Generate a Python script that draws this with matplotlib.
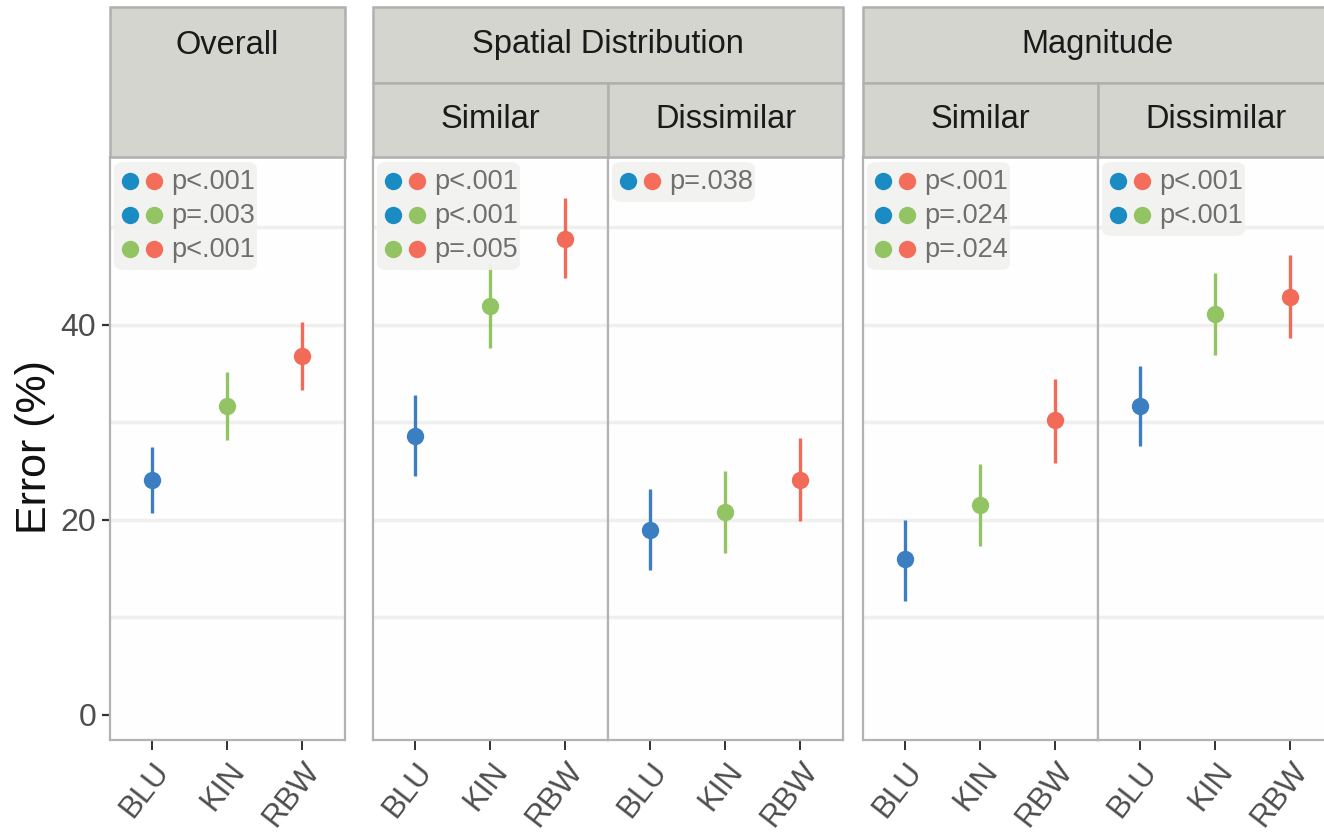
import numpy as np
import matplotlib
matplotlib.use("Agg")
import matplotlib.pyplot as plt
from matplotlib.patches import Rectangle, FancyBboxPatch
from matplotlib.lines import Line2D

plt.rcParams['font.family'] = ['Liberation Sans', 'DejaVu Sans']

W, H = 1324, 839

# colour schemes on the x axis
categories = ['BLU', 'KIN', 'RBW']

# mean error (%) with lower / upper interval bounds for each panel
overall_mean = [24.1, 31.7, 36.8]
overall_lo = [20.7, 28.2, 33.3]
overall_hi = [27.5, 35.1, 40.3]

spatial_sim_mean = [28.6, 41.9, 48.8]
spatial_sim_lo = [24.5, 37.6, 44.8]
spatial_sim_hi = [32.8, 46.2, 53.0]

spatial_dis_mean = [18.9, 20.8, 24.1]
spatial_dis_lo = [14.8, 16.6, 19.9]
spatial_dis_hi = [23.1, 25.0, 28.4]

mag_sim_mean = [16.0, 21.5, 30.2]
mag_sim_lo = [11.7, 17.3, 25.8]
mag_sim_hi = [20.0, 25.7, 34.4]

mag_dis_mean = [31.7, 41.1, 42.8]
mag_dis_lo = [27.6, 36.9, 38.6]
mag_dis_hi = [35.8, 45.3, 47.1]

# pairwise comparisons shown in each panel
overall_tests = [('BLU', 'RBW', 'p<.001'), ('BLU', 'KIN', 'p=.003'), ('KIN', 'RBW', 'p<.001')]
spatial_sim_tests = [('BLU', 'RBW', 'p<.001'), ('BLU', 'KIN', 'p<.001'), ('KIN', 'RBW', 'p=.005')]
spatial_dis_tests = [('BLU', 'RBW', 'p=.038')]
mag_sim_tests = [('BLU', 'RBW', 'p<.001'), ('BLU', 'KIN', 'p=.024'), ('KIN', 'RBW', 'p=.024')]
mag_dis_tests = [('BLU', 'RBW', 'p<.001'), ('BLU', 'KIN', 'p<.001')]

point_colors = {'BLU': '#3b7fc2', 'KIN': '#93c463', 'RBW': '#f26a58'}
dot_colors = {'BLU': '#1b8cc3', 'KIN': '#93c463', 'RBW': '#f46c5a'}

STRIP_FILL = '#d5d5d0'
STRIP_EDGE = '#b0b0b0'
GRID = '#efefed'

PLOT_TOP, PLOT_BOT = 157, 740
STRIP_TOP, STRIP_MID = 7, 83


def fx(px):
    return px / W


def fy(py):
    return 1 - py / H


def strip(fig, x0, x1, y0, y1, label):
    fig.add_artist(Rectangle((fx(x0), fy(y1)), fx(x1) - fx(x0), fy(y0) - fy(y1),
                             transform=fig.transFigure, facecolor=STRIP_FILL,
                             edgecolor=STRIP_EDGE, linewidth=1.8, zorder=1))
    fig.text(fx((x0 + x1) / 2), fy((y0 + y1) / 2), label, ha='center', va='center',
             fontsize=23.5, color='#1a1a1a', zorder=2)


def key_box(fig, x0, tests):
    n = len(tests)
    top = 162
    fig.add_artist(FancyBboxPatch((fx(x0 + 4), fy(top + 6 + 34 * n)), fx(143), fy(0) - fy(6 + 34 * n),
                                  boxstyle='round,pad=0,rounding_size=0.008',
                                  transform=fig.transFigure, facecolor='#f2f2f0',
                                  edgecolor='none', alpha=0.92, zorder=5))
    for i, (a, b, label) in enumerate(tests):
        yc = 181 + 34 * i
        for dx, cat in ((20, a), (44, b)):
            fig.add_artist(Line2D([fx(x0 + dx)], [fy(yc)], marker='o', markersize=12.5,
                                  markerfacecolor=dot_colors[cat], markeredgecolor='none',
                                  transform=fig.transFigure, zorder=6))
        fig.text(fx(x0 + 61), fy(yc + 1), label, ha='left', va='center', fontsize=19.5,
                 color='#6f6f6f', zorder=6)


def panel(fig, x0, x1, mean, lo, hi, show_y):
    ax = fig.add_axes([fx(x0), fy(PLOT_BOT), fx(x1) - fx(x0), fy(PLOT_TOP) - fy(PLOT_BOT)])
    ax.set_facecolor('#fefefe')
    x = np.arange(1, len(categories) + 1)
    for xi, cat, m, l, h in zip(x, categories, mean, lo, hi):
        ax.plot([xi, xi], [l, h], color=point_colors[cat], lw=2.4, solid_capstyle='butt', zorder=3)
        ax.plot(xi, m, 'o', color=point_colors[cat], markersize=12.5, markeredgewidth=0, zorder=4)
    ax.set_xlim(0.44, 3.57)
    ax.set_ylim(-2.6, 57.2)
    for g in (10, 20, 30, 40, 50):
        ax.axhline(g, color=GRID, lw=2.5, zorder=1)
    ax.set_xticks(x)
    ax.set_xticklabels(categories, rotation=52, ha='right', va='top',
                       rotation_mode='anchor', fontsize=22.5, color='#4d4d4d')
    ax.tick_params(axis='x', length=7, width=1.4, color='#333333', pad=5)
    if show_y:
        ax.set_yticks([0, 20, 40])
        ax.set_yticklabels(['0', '20', '40'], fontsize=23, color='#4d4d4d')
        ax.tick_params(axis='y', length=6, width=1.6, color='#333333', pad=4)
    else:
        ax.set_yticks([])
    for s in ax.spines.values():
        s.set_color('#b3b3b3')
        s.set_linewidth(1.6)
    return ax


fig = plt.figure(figsize=(W / 100, H / 100), dpi=100)
fig.patch.set_facecolor('white')

# Overall
panel(fig, 110, 345, overall_mean, overall_lo, overall_hi, True)
strip(fig, 110, 345, STRIP_TOP, PLOT_TOP, '')
fig.text(fx(227), fy(46), 'Overall', ha='center', va='center', fontsize=23.5, color='#1a1a1a')
key_box(fig, 110, overall_tests)

# Spatial Distribution
panel(fig, 373, 608, spatial_sim_mean, spatial_sim_lo, spatial_sim_hi, False)
panel(fig, 608, 843, spatial_dis_mean, spatial_dis_lo, spatial_dis_hi, False)
strip(fig, 373, 843, STRIP_TOP, STRIP_MID, 'Spatial Distribution')
strip(fig, 373, 608, STRIP_MID, PLOT_TOP, 'Similar')
strip(fig, 608, 843, STRIP_MID, PLOT_TOP, 'Dissimilar')
key_box(fig, 373, spatial_sim_tests)
key_box(fig, 608, spatial_dis_tests)

# Magnitude
panel(fig, 863, 1098, mag_sim_mean, mag_sim_lo, mag_sim_hi, False)
panel(fig, 1098, 1333, mag_dis_mean, mag_dis_lo, mag_dis_hi, False)
strip(fig, 863, 1333, STRIP_TOP, STRIP_MID, 'Magnitude')
strip(fig, 863, 1098, STRIP_MID, PLOT_TOP, 'Similar')
strip(fig, 1098, 1333, STRIP_MID, PLOT_TOP, 'Dissimilar')
key_box(fig, 863, mag_sim_tests)
key_box(fig, 1098, mag_dis_tests)

fig.text(fx(35), fy(447), 'Error (%)', rotation=90, ha='center', va='center',
         fontsize=31, color='#111111')

fig.savefig('out.png', dpi=100, facecolor='white')
